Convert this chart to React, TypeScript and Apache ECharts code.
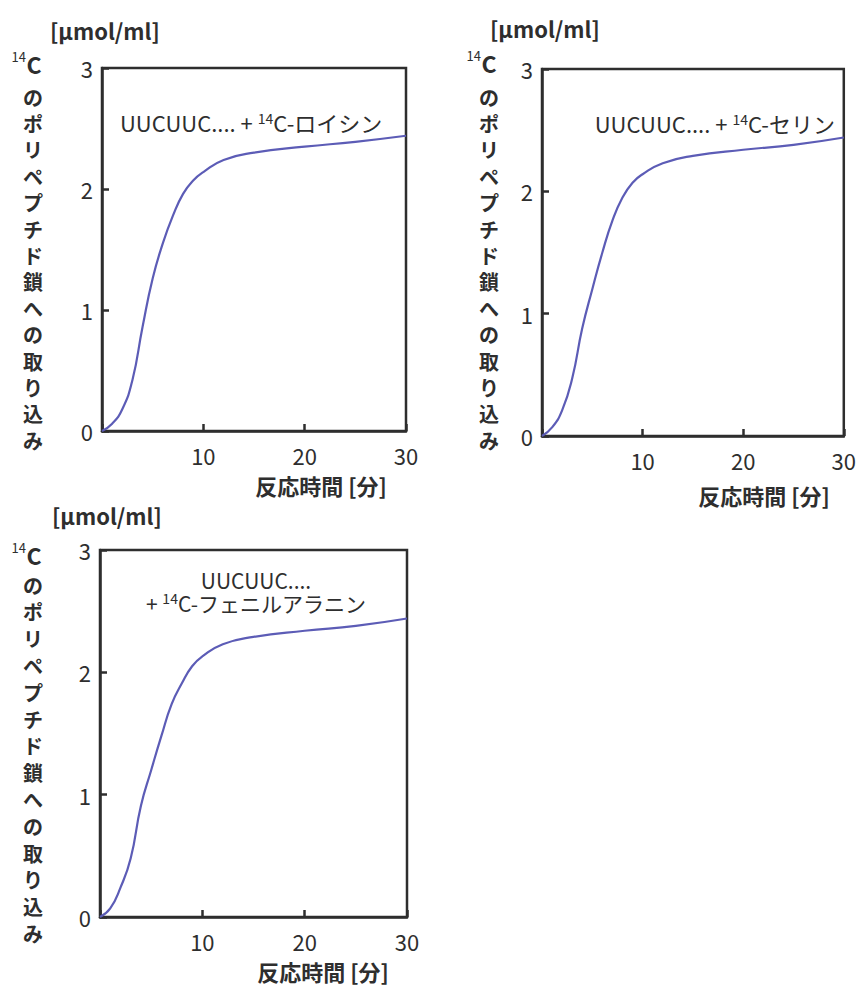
import React, { useEffect, useRef } from "react";
import * as echarts from "echarts";

const times = [0, 1, 2, 3, 4, 5, 6, 7, 8, 9, 10, 12, 15, 20, 25, 30];
const leucine = [0, 0.06, 0.18, 0.42, 0.86, 1.26, 1.55, 1.78, 1.96, 2.07, 2.14, 2.24, 2.3, 2.35, 2.39, 2.44];
const serine = [0, 0.07, 0.21, 0.47, 0.88, 1.2, 1.5, 1.76, 1.95, 2.07, 2.14, 2.23, 2.29, 2.34, 2.38, 2.44];
const phenylalanine = [0, 0.07, 0.24, 0.48, 0.91, 1.2, 1.48, 1.74, 1.91, 2.05, 2.13, 2.23, 2.29, 2.34, 2.38, 2.44];

const xMin = 0;
const xMax = 30;
const xStep = 10;
const yMin = 0;
const yMax = 3;
const yStep = 1;

const unitLabel = "[μmol/ml]";
const xTitle = "反応時間 [分]";
const yTitleChars = ["の", "ポ", "リ", "ペ", "プ", "チ", "ド", "鎖", "へ", "の", "取", "り", "込", "み"];
const labels = ["ロイシン", "セリン", "フェニルアラニン"];

const FONT = "'Noto Sans CJK JP', 'Noto Sans', sans-serif";
const INK = "#2e2e2e";
const LINE = "#5c5cb6";

export default function App() {
  const ref = useRef<HTMLDivElement>(null);
  useEffect(() => {
    if (!ref.current) return;
    const chart = echarts.init(ref.current, undefined, { renderer: "svg" });

    const grids = [
      { left: 102, top: 68, width: 304, height: 363 },
      { left: 542, top: 69, width: 306, height: 367 },
      { left: 100, top: 550, width: 307, height: 367 },
    ];
    const seriesData = [leucine, serine, phenylalanine];

    const axisLine = { show: true, onZero: false, lineStyle: { color: INK, width: 2.5 } };
    const axisTick = { show: true, inside: true, length: 7, lineStyle: { color: INK, width: 2.5 } };

    const xAxes = grids.map((_, i) => ({
      gridIndex: i,
      type: "value",
      position: "bottom",
      min: xMin,
      max: xMax,
      interval: xStep,
      axisLine,
      axisTick,
      splitLine: { show: false },
      axisLabel: {
        show: true,
        margin: 13,
        fontSize: 22,
        color: INK,
        fontFamily: FONT,
        formatter: (v: number) => (v === 0 ? "" : String(v)),
      },
    }));
    const yAxes = grids.map((_, i) => ({
      gridIndex: i,
      type: "value",
      position: "left",
      min: yMin,
      max: yMax,
      interval: yStep,
      axisLine,
      axisTick,
      splitLine: { show: false },
      axisLabel: { show: true, margin: 9, fontSize: 22, color: INK, fontFamily: FONT },
    }));

    const curves = seriesData.map((vals, i) => ({
      type: "line",
      xAxisIndex: i,
      yAxisIndex: i,
      data: times.map((t, k) => [t, vals[k]]),
      smooth: 0.5,
      showSymbol: false,
      lineStyle: { color: LINE, width: 2.2 },
      z: 3,
    }));

    const panelText = (
      unitX: number,
      unitY: number,
      cX: number,
      cY: number,
      colX: number,
      colTop: number,
      colStep: number,
      titleX: number,
      titleY: number
    ) => [
      {
        type: "text",
        style: { x: unitX, y: unitY, text: unitLabel, fontSize: 22, fontWeight: "bold", fill: INK, fontFamily: FONT, textVerticalAlign: "middle" },
      },
      {
        type: "text",
        style: { x: cX, y: cY, text: "C", fontSize: 23, fontWeight: "bold", fill: INK, fontFamily: FONT, textAlign: "center", textVerticalAlign: "middle" },
      },
      {
        type: "text",
        style: { x: cX - 8, y: cY - 8, text: "14", fontSize: 13, fill: INK, fontFamily: FONT, textAlign: "right", textVerticalAlign: "middle" },
      },
      {
        type: "text",
        style: {
          x: colX,
          y: colTop - colStep / 2,
          text: yTitleChars.join("\n"),
          fontSize: 20,
          lineHeight: colStep,
          fontWeight: "bold",
          fill: INK,
          fontFamily: FONT,
          textAlign: "center",
          textVerticalAlign: "top",
        },
      },
      {
        type: "text",
        style: { x: titleX, y: titleY, text: xTitle, fontSize: 22, fontWeight: "bold", fill: INK, fontFamily: FONT, textAlign: "center", textVerticalAlign: "middle" },
      },
    ];

    const rich = {
      a: { fontSize: 22, fill: INK, color: INK, fontFamily: FONT, lineHeight: 22 },
      s: { fontSize: 14, fill: INK, color: INK, fontFamily: FONT, verticalAlign: "top", lineHeight: 22 },
    };
    const rich2 = {
      a: { fontSize: 21, fill: INK, color: INK, fontFamily: FONT, lineHeight: 23, align: "center" },
      s: { fontSize: 14, fill: INK, color: INK, fontFamily: FONT, verticalAlign: "top", lineHeight: 23 },
    };

    const graphic = [
      ...panelText(50, 30, 34, 64, 33, 97, 26.4, 321, 485),
      ...panelText(490, 28, 489, 63, 489, 97, 26.4, 764, 495),
      ...panelText(52, 515, 34, 555, 33, 585, 26.8, 323, 971),
      {
        type: "text",
        style: {
          x: 120,
          y: 122,
          text: "{a|UUCUUC.... + }{s|14}{a|C-" + labels[0] + "}",
          rich,
          fontFamily: FONT,
          textVerticalAlign: "middle",
        },
      },
      {
        type: "text",
        style: {
          x: 835,
          y: 123,
          text: "{a|UUCUUC.... + }{s|14}{a|C-" + labels[1] + "}",
          rich,
          fontFamily: FONT,
          textAlign: "right",
          textVerticalAlign: "middle",
        },
      },
      {
        type: "text",
        style: {
          x: 256,
          y: 591,
          text: "{a|UUCUUC....}\n{a|+ }{s|14}{a|C-" + labels[2] + "}",
          rich: rich2,
          fontFamily: FONT,
          textAlign: "center",
          textVerticalAlign: "middle",
        },
      },
    ];

    chart.setOption({
      animation: false,
      backgroundColor: "#ffffff",
      grid: grids.map((g) => ({ ...g, show: true, borderColor: INK, borderWidth: 2.5, backgroundColor: "transparent" })),
      xAxis: xAxes,
      yAxis: yAxes,
      series: curves,
      graphic,
    });
    return () => chart.dispose();
  }, []);

  return (
    <div
      ref={ref}
      style={{ position: "fixed", left: 0, top: 0, width: 859, height: 987, background: "#fff" }}
    />
  );
}
